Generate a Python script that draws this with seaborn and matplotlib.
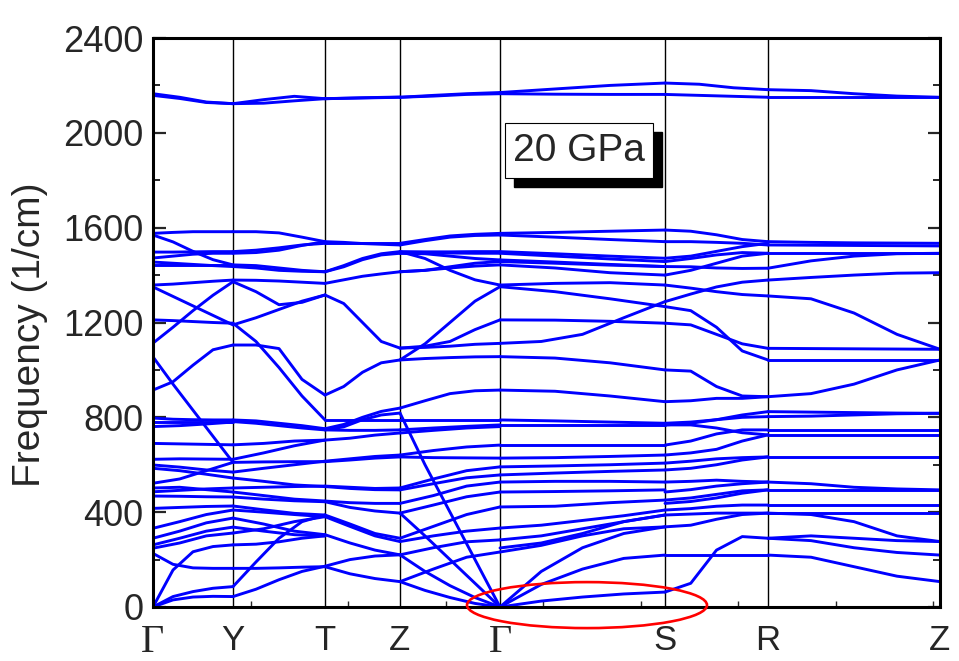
import numpy as np
import pandas as pd
import matplotlib
matplotlib.use("Agg")
import matplotlib.pyplot as plt
import seaborn as sns
from matplotlib.patches import Ellipse, Rectangle

# ---------------- data ----------------
kpath_labels = ["Γ", "Y", "T", "Z", "Γ", "S", "R", "Z"]
kpath_pos = [0, 80, 172, 247, 347, 512, 615, 787]

# each segment: list of branches, each branch = frequencies (1/cm) sampled evenly along the segment
seg_GY = [
    (2165, 2150, 2130, 2123), (2158, 2145, 2128, 2123),
    (1576, 1580, 1583, 1583, 1583), (1569, 1540, 1500, 1465, 1443),
    (1497, 1497, 1498, 1499, 1499), (1472, 1480, 1488, 1492, 1492),
    (1455, 1450, 1445, 1440, 1436), (1443, 1443, 1443, 1443, 1443),
    (1358, 1362, 1368, 1374, 1379), (1350, 1310, 1270, 1230, 1190),
    (1211, 1208, 1204, 1200, 1197), (1113, 1180, 1250, 1315, 1372),
    (1055, 940, 830, 720, 610), (915, 950, 1020, 1085, 1105),
    (797, 792, 790, 789, 789), (782, 782, 782, 782, 782),
    (761, 765, 772, 780), (690, 688, 686, 684), (623, 625, 624, 623),
    (599, 590, 578, 569), (585, 575, 560, 544), (522, 540, 575, 610),
    (502, 505, 495, 485), (486, 492, 498, 502), (468, 467, 465, 464),
    (416, 420, 424, 426), (332, 360, 390, 409), (290, 320, 355, 375),
    (262, 290, 320, 337), (248, 270, 300, 312),
    (0, 156, 233, 255, 262), (226, 180, 165, 163, 163),
    (0, 44, 65, 79, 86), (0, 30, 42, 45, 44),
]
seg_YT = [
    (2123, 2140, 2154, 2144), (2123, 2125, 2135, 2144),
    (1583, 1583, 1578, 1560, 1541), (1499, 1505, 1515, 1527, 1534),
    (1492, 1495, 1505, 1525, 1541), (1443, 1440, 1430, 1420, 1414),
    (1436, 1430, 1420, 1416, 1414), (1379, 1378, 1375, 1370, 1365),
    (1372, 1330, 1275, 1285, 1316), (1190, 1220, 1255, 1290, 1316),
    (1197, 1120, 1010, 890, 789), (1105, 1105, 1090, 960, 894),
    (789, 785, 775, 765, 752), (782, 775, 765, 755, 747),
    (684, 690, 700, 704), (623, 650, 680, 704), (610, 612, 613, 613),
    (569, 585, 600, 615), (544, 530, 515, 508), (502, 505, 508, 510),
    (485, 470, 455, 447), (464, 455, 448, 444), (426, 410, 395, 388),
    (409, 400, 390, 381), (375, 350, 320, 305), (337, 320, 305, 300),
    (312, 330, 360, 381), (262, 265, 275, 290, 300),
    (163, 163, 165, 168, 170), (86, 190, 290, 360, 388),
    (44, 75, 115, 150, 172),
]
seg_TZ = [
    (2144, 2147, 2150), (2144, 2148, 2151),
    (1541, 1538, 1533, 1530, 1527), (1534, 1534, 1534, 1534, 1534),
    (1414, 1440, 1470, 1490, 1499), (1414, 1435, 1465, 1485, 1492),
    (1365, 1380, 1395, 1405, 1414), (1316, 1280, 1200, 1120, 1092),
    (894, 930, 990, 1030, 1042),
    (789, 789, 789, 789), (752, 770, 800, 825, 839), (747, 760, 790, 810, 818),
    (747, 745, 745, 747), (704, 712, 725, 734), (615, 625, 635, 641),
    (613, 620, 628, 633), (510, 505, 500, 502), (508, 500, 495, 494),
    (447, 440, 437, 437), (444, 420, 405, 396), (388, 350, 310, 290),
    (381, 340, 300, 276), (305, 270, 240, 220), (172, 200, 215, 220),
    (170, 140, 120, 107),
]
seg_ZG = [
    (2150, 2158, 2165, 2170), (2150, 2155, 2162, 2165),
    (1534, 1550, 1565, 1572, 1576), (1527, 1545, 1560, 1567, 1569),
    (1499, 1498, 1498, 1499, 1499), (1492, 1490, 1480, 1470, 1464),
    (1499, 1470, 1420, 1380, 1358), (1414, 1420, 1435, 1450, 1457),
    (1414, 1420, 1430, 1438, 1443), (1492, 1493, 1493, 1492, 1492),
    (1092, 1100, 1120, 1170, 1211), (1092, 1095, 1100, 1108, 1112),
    (1042, 1110, 1200, 1290, 1351), (1042, 1048, 1052, 1055, 1056),
    (839, 870, 900, 912, 915), (789, 789, 789, 789, 789),
    (818, 600, 400, 200, 0), (747, 755, 762, 768), (734, 745, 755, 761),
    (641, 660, 675, 683), (633, 630, 629, 628), (502, 540, 575, 591),
    (494, 520, 545, 557), (437, 470, 510, 527), (396, 430, 465, 485),
    (290, 340, 390, 422), (276, 300, 320, 333), (220, 250, 275, 283),
    (107, 160, 210, 232), (396, 300, 200, 100, 0), (220, 150, 90, 40, 0),
    (107, 70, 40, 15, 0),
]
seg_GS = [
    (2170, 2185, 2200, 2210), (2165, 2163, 2162, 2162),
    (1576, 1580, 1585, 1590), (1569, 1560, 1550, 1541),
    (1499, 1490, 1480, 1471), (1492, 1480, 1468, 1457),
    (1464, 1455, 1445, 1436), (1457, 1450, 1442, 1436),
    (1443, 1430, 1410, 1400), (1358, 1365, 1368, 1358),
    (1351, 1330, 1300, 1267), (1211, 1210, 1205, 1197),
    (1112, 1120, 1150, 1220, 1288), (1056, 1050, 1030, 1000),
    (915, 910, 890, 866), (789, 785, 780, 775),
    (768, 768, 768, 768), (683, 683, 683, 683), (628, 630, 635, 641),
    (591, 595, 600, 607), (557, 565, 572, 578), (527, 530, 530, 527),
    (485, 487, 490, 494), (422, 425, 440, 451),
    (333, 345, 365, 385, 409), (283, 300, 330, 360, 388),
    (249, 270, 310, 360, 388), (232, 260, 300, 330, 338),
    (0, 25, 42, 55, 63), (0, 95, 160, 205, 219), (0, 150, 250, 310, 338),
]
seg_SR = [
    (2210, 2205, 2190, 2182), (2162, 2158, 2154, 2150),
    (1590, 1585, 1570, 1550, 1541), (1541, 1541, 1538, 1534, 1527),
    (1471, 1480, 1500, 1520, 1534), (1457, 1470, 1485, 1495, 1492),
    (1436, 1435, 1430, 1428, 1429), (1400, 1420, 1450, 1480, 1492),
    (1358, 1345, 1330, 1318, 1312), (1288, 1320, 1350, 1370, 1379),
    (1267, 1250, 1180, 1080, 1042), (1197, 1190, 1150, 1110, 1091),
    (1000, 995, 930, 890, 887), (866, 870, 880, 880, 887),
    (775, 780, 790, 800, 803), (768, 775, 790, 810, 824),
    (683, 700, 730, 747, 747), (768, 768, 755, 735, 726),
    (641, 650, 665, 700, 726), (607, 615, 625, 630, 633),
    (578, 585, 600, 620, 633), (527, 530, 535, 530, 527),
    (485, 495, 510, 520, 527), (451, 460, 475, 490, 494),
    (437, 445, 460, 480, 494), (409, 415, 425, 430, 430),
    (388, 392, 396, 396, 396), (338, 345, 370, 390, 396),
    (219, 219, 219, 219, 219), (63, 100, 240, 297, 290),
]
seg_RZ = [
    (2182, 2178, 2165, 2155, 2150), (2150, 2150, 2150, 2150, 2150),
    (1541, 1538, 1536, 1535, 1534), (1527, 1526, 1525, 1524, 1523),
    (1492, 1492, 1492, 1492, 1492), (1429, 1460, 1480, 1490, 1492),
    (1379, 1390, 1400, 1408, 1410),
    (1312, 1300, 1240, 1150, 1087), (1091, 1090, 1089, 1088, 1087),
    (1042, 1042, 1042, 1042, 1042), (887, 900, 940, 1000, 1042),
    (824, 822, 820, 818, 817), (803, 805, 810, 815, 817),
    (747, 747, 747, 747, 747), (726, 726, 726, 726, 726),
    (633, 633, 633, 633, 633), (527, 520, 505, 498, 494),
    (494, 494, 494, 494, 494), (430, 430, 430, 430, 430),
    (396, 396, 396, 396, 396), (396, 390, 360, 300, 276),
    (290, 300, 290, 280, 276), (290, 280, 250, 230, 219),
    (219, 210, 170, 130, 107),
]
segments = [seg_GY, seg_YT, seg_TZ, seg_ZG, seg_GS, seg_SR, seg_RZ]

# ---------------- build table ----------------
rows = []
line_id = 0
for s, seg in enumerate(segments):
    k0, k1 = kpath_pos[s], kpath_pos[s + 1]
    for branch in seg:
        ks = np.linspace(k0, k1, len(branch))
        for k, f in zip(ks, branch):
            rows.append((line_id, k, f))
        line_id += 1
df = pd.DataFrame(rows, columns=["line", "k", "freq"])

# ---------------- figure ----------------
sns.set_style("white")
plt.rcParams["font.family"] = ["Liberation Sans", "DejaVu Sans"]

fig = plt.figure(figsize=(9.59, 6.61), dpi=100)
ax = fig.add_axes([153 / 959, 1 - 607 / 661, 787 / 959, 569 / 661])

sns.lineplot(data=df, x="k", y="freq", units="line", estimator=None,
             sort=False, color="#0000ff", lw=2.1, ax=ax, legend=False)
for ln in ax.get_lines():
    ln.set_solid_joinstyle("round")
    ln.set_solid_capstyle("round")

for kp in kpath_pos[1:-1]:
    ax.axvline(kp, color="black", lw=1.0, zorder=1)

ax.set_xlim(kpath_pos[0], kpath_pos[-1])
ax.set_ylim(0, 2400)
ax.set_xlabel("")
ax.set_ylabel("Frequency (1/cm)", fontsize=28)
ax.yaxis.set_label_coords(-0.133, 0.478)

ax.set_yticks(np.arange(0, 2401, 400))
ax.set_yticks(np.arange(0, 2401, 200), minor=True)
ax.tick_params(axis="y", which="major", direction="in", length=9, width=1.6,
               labelsize=26, pad=7, left=True, right=True)
ax.tick_params(axis="y", which="minor", direction="in", length=5, width=1.4,
               left=True, right=True)

ax.set_xticks(kpath_pos)
ax.set_xticklabels(kpath_labels)
ax.set_xticks(np.arange(97.5, 787, 97.5), minor=True)
ax.tick_params(axis="x", which="major", length=0, pad=12)
ax.tick_params(axis="x", which="minor", direction="in", length=4, width=1.0,
               bottom=True, top=False)
for lab in ax.get_xticklabels():
    if lab.get_text() == "Γ":
        lab.set_fontfamily(["Liberation Serif", "DejaVu Serif"])
        lab.set_fontsize(29)
    else:
        lab.set_fontsize(25)

for sp in ax.spines.values():
    sp.set_visible(True)
    sp.set_color("black")
    sp.set_linewidth(2.2)

# red ellipse marking acoustic branches
ell = Ellipse(xy=(434, 8), width=240, height=194, fill=False,
              edgecolor="red", lw=1.9, clip_on=False, zorder=6)
ax.add_patch(ell)

# "20 GPa" label box with shadow
shadow = Rectangle((514 / 959, 1 - 187 / 661), 148 / 959, 55 / 661,
                   transform=fig.transFigure, facecolor="black",
                   edgecolor="black", zorder=7)
box = Rectangle((505 / 959, 1 - 178 / 661), 148 / 959, 55 / 661,
                transform=fig.transFigure, facecolor="white",
                edgecolor="black", lw=0.8, zorder=8)
fig.patches.extend([shadow, box])
fig.text(579 / 959, 1 - 151 / 661, "20 GPa", ha="center", va="center",
         fontsize=28, family=["Liberation Sans Narrow", "Liberation Sans"],
         zorder=9)

fig.savefig("out.png", dpi=100)
